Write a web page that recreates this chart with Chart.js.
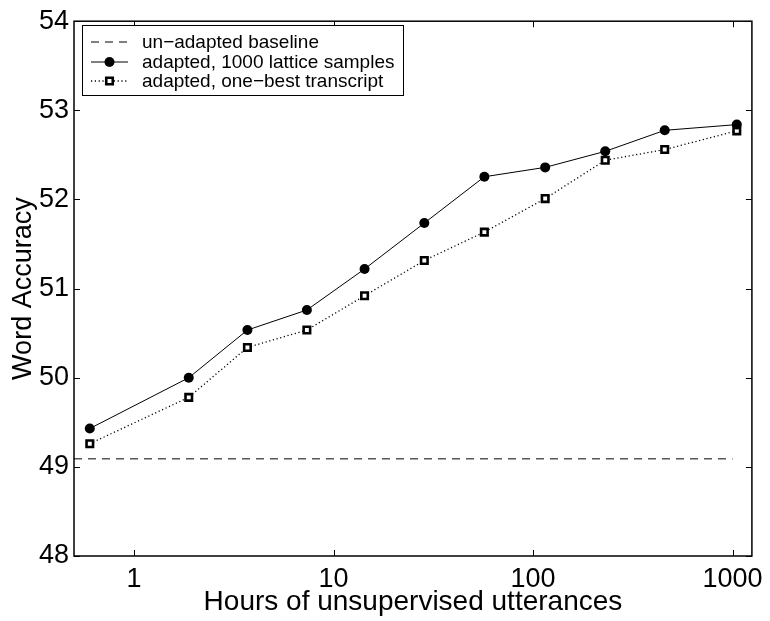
<!DOCTYPE html>
<html><head><meta charset="utf-8">
<script src="https://cdn.jsdelivr.net/npm/chart.js@4"></script>
<style>body{margin:0;background:#fff}#wrap{width:770px;height:621px}</style>
</head><body><div id="wrap"><canvas id="c" width="770" height="621"></canvas></div>
<script>
const hours = [0.6, 1.88, 3.7, 7.35, 14.3, 28.5, 57, 115, 230, 457, 1050];
const latticeAcc = [49.43, 50.00, 50.535, 50.76, 51.22, 51.735, 52.255, 52.36, 52.54, 52.776, 52.84];
const oneBestAcc = [49.26, 49.78, 50.34, 50.535, 50.92, 51.315, 51.634, 52.01, 52.44, 52.56, 52.77];
const baselineHours = [0.5, 1000];
const baselineAcc = [49.09, 49.09];
const xTicks = [1, 10, 100, 1000];
const yTicks = [48, 49, 50, 51, 52, 53, 54];
const seriesNames = ['un\u2212adapted baseline', 'adapted, 1000 lattice samples', 'adapted, one\u2212best transcript'];
const xTitle = 'Hours of unsupervised utterances';
const yTitle = 'Word Accuracy';

const FONT = '"Liberation Sans", Arial, Helvetica, sans-serif';

const toPts = (xs, ys) => xs.map((x, i) => ({x: x, y: ys[i]}));

const framePlugin = {
  id: 'frame',
  afterDatasetsDraw(chart) {
    const {ctx, chartArea: a, scales} = chart;
    ctx.save();
    ctx.strokeStyle = '#000';
    ctx.lineWidth = 1.5;
    ctx.strokeRect(a.left, a.top, a.right - a.left, a.bottom - a.top);
    ctx.lineWidth = 1;
    const tl = 6;
    ctx.beginPath();
    xTicks.forEach(v => {
      const px = Math.round(scales.x.getPixelForValue(v)) + 0.5;
      ctx.moveTo(px, a.bottom); ctx.lineTo(px, a.bottom - tl);
      ctx.moveTo(px, a.top); ctx.lineTo(px, a.top + tl);
    });
    yTicks.forEach(v => {
      const py = Math.round(scales.y.getPixelForValue(v)) + 0.5;
      ctx.moveTo(a.left, py); ctx.lineTo(a.left + tl, py);
      ctx.moveTo(a.right, py); ctx.lineTo(a.right - tl, py);
    });
    ctx.stroke();

    // legend
    const bx = 82, by = 25, bw = 321, bh = 70;
    ctx.fillStyle = '#fff';
    ctx.fillRect(bx, by, bw, bh);
    ctx.lineWidth = 1;
    ctx.strokeRect(bx + 0.5, by + 0.5, bw, bh);
    const rows = [42, 62, 81];
    ctx.font = '19px ' + FONT;
    ctx.fillStyle = '#000';
    ctx.textBaseline = 'middle';
    const ds = chart.data.datasets;
    rows.forEach((ry, i) => {
      const d = ds[i];
      ctx.save();
      ctx.strokeStyle = '#000';
      ctx.lineWidth = d.borderWidth;
      ctx.setLineDash(d.borderDash || []);
      ctx.beginPath();
      ctx.moveTo(91, ry); ctx.lineTo(128, ry);
      ctx.stroke();
      ctx.setLineDash([]);
      if (d.pointRadius > 0) {
        ctx.fillStyle = d.pointBackgroundColor;
        ctx.strokeStyle = d.pointBorderColor;
        ctx.lineWidth = d.pointBorderWidth;
        ctx.beginPath();
        if (d.pointStyle === 'circle') {
          ctx.arc(109.5, ry, d.pointRadius, 0, Math.PI * 2);
        } else {
          const s = Math.SQRT1_2 * d.pointRadius;
          ctx.rect(109.5 - s, ry - s, 2 * s, 2 * s);
        }
        ctx.fill();
        if (d.pointBorderWidth) ctx.stroke();
      }
      ctx.restore();
      ctx.fillText(seriesNames[i], 142, ry + 1);
    });
    ctx.restore();
  }
};

new Chart(document.getElementById('c'), {
  type: 'line',
  data: {
    datasets: [
      {
        label: seriesNames[0], data: toPts(baselineHours, baselineAcc),
        borderColor: '#000', borderWidth: 1, borderDash: [8, 6],
        pointRadius: 0, pointBorderWidth: 0, fill: false
      },
      {
        label: seriesNames[1], data: toPts(hours, latticeAcc),
        borderColor: '#000', borderWidth: 1,
        pointStyle: 'circle', pointRadius: 5, pointBorderWidth: 0,
        pointBackgroundColor: '#000', pointBorderColor: '#000', fill: false
      },
      {
        label: seriesNames[2], data: toPts(hours, oneBestAcc),
        borderColor: '#000', borderWidth: 1.3, borderDash: [1.2, 2.6],
        pointStyle: 'rect', pointRadius: 4.6, pointBorderWidth: 2.6,
        pointBackgroundColor: '#fff', pointBorderColor: '#000', fill: false
      }
    ]
  },
  options: {
    responsive: false,
    animation: false,
    devicePixelRatio: 1,
    layout: {padding: {top: 18, right: 14, left: 0, bottom: 0}},
    plugins: {legend: {display: false}, tooltip: {enabled: false}},
    elements: {line: {tension: 0}},
    scales: {
      x: {
        type: 'logarithmic', min: 0.5, max: 1250,
        afterBuildTicks: s => { s.ticks = xTicks.map(v => ({value: v})); },
        afterFit: s => { s.height = 65; },
        ticks: {
          callback: v => String(v), color: '#000', padding: 7,
          font: {family: FONT, size: 27}, maxRotation: 0, autoSkip: false
        },
        grid: {display: false, drawTicks: false},
        border: {display: false},
        title: {display: true, text: xTitle, color: '#000', font: {family: FONT, size: 28}, padding: {top: 0, bottom: 2}}
      },
      y: {
        type: 'linear', min: 48, max: 54,
        afterBuildTicks: s => { s.ticks = yTicks.map(v => ({value: v})); },
        afterFit: s => { s.width = 74; },
        ticks: {color: '#000', padding: 5, font: {family: FONT, size: 27}},
        grid: {display: false, drawTicks: false},
        border: {display: false},
        title: {display: true, text: yTitle, color: '#000', font: {family: FONT, size: 27}, padding: {top: 7, bottom: 0}}
      }
    }
  },
  plugins: [framePlugin]
});
</script>
</body></html>
